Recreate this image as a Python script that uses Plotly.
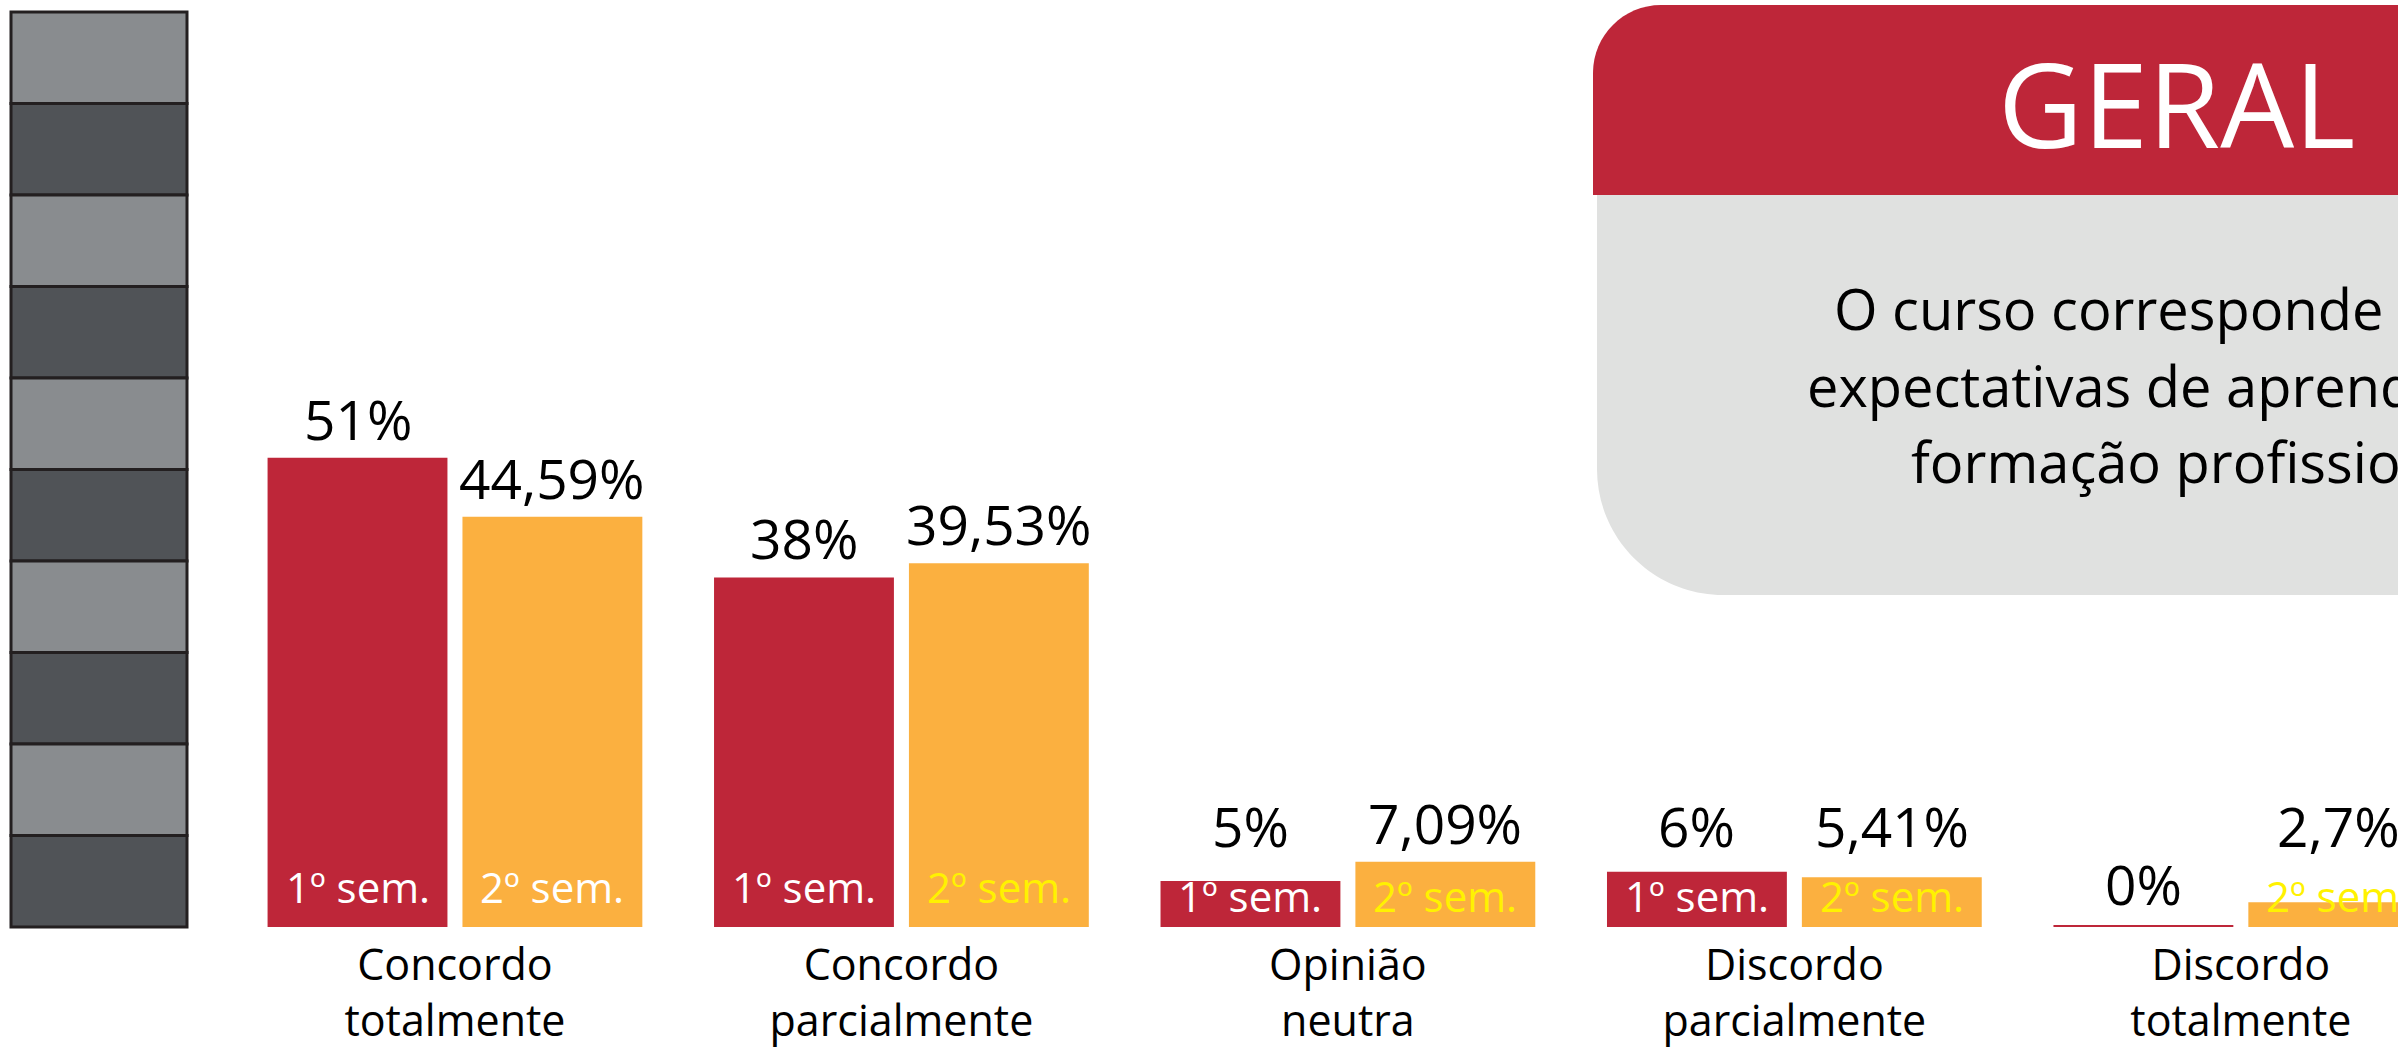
import plotly.graph_objects as go

# ---------------- data ----------------
categories = ["Concordo<br>totalmente", "Concordo<br>parcialmente", "Opinião<br>neutra",
              "Discordo<br>parcialmente", "Discordo<br>totalmente"]
series_names = ["1º sem.", "2º sem."]
sem1 = [51, 38, 5, 6, 0]
sem2 = [44.59, 39.53, 7.09, 5.41, 2.7]
title_text = "GERAL"
question_lines = ["O curso corresponde às suas", "expectativas de aprendizagem e", "formação profissional?"]

# ---------------- style ----------------
RED = "#BE2639"
ORANGE = "#FBB040"
YELLOW = "#FFF200"
BOX_GRAY = "#E0E1E0"
SEG_LIGHT = "#898C8F"
SEG_DARK = "#505357"
SEG_LINE = "#231F20"
FONT = "Open Sans"
sem2_label_colors = ["#FFFFFF", YELLOW, YELLOW, YELLOW, YELLOW]

W, H = 2398, 1054
PLOT_H = 927            # plot area height in px (baseline position)
PX_PER_PCT = 9.2
Y_MAX = PLOT_H / PX_PER_PCT
X_RANGE = [-1.019, 4.352]
PX_PER_CAT = W / (X_RANGE[1] - X_RANGE[0])
BARGAP = 0.127
BARGROUPGAP = 0.077
SLOT = (1 - BARGAP) / 2
OFFSET_PX = SLOT * PX_PER_CAT / 2
BAR_W = SLOT * (1 - BARGROUPGAP)

VAL_FS = 55
IN_FS = 42


def fmt(v):
    s = f"{v:.2f}".rstrip("0").rstrip(".")
    return s.replace(".", ",") + "%"


def X(px):
    return px / W


def Y(py):
    return (PLOT_H - py) / PLOT_H


fig = go.Figure()
for vals, color, name in [(sem1, RED, series_names[0]), (sem2, ORANGE, series_names[1])]:
    fig.add_trace(go.Bar(x=categories, y=vals, name=name, marker=dict(color=color, line=dict(width=0)),
                         showlegend=False, hoverinfo="skip"))

annotations = []
shapes = []
for s, (vals, sign) in enumerate([(sem1, -1), (sem2, 1)]):
    for i, (cat, v) in enumerate(zip(categories, vals)):
        bar_px = v * PX_PER_PCT
        if v > 0:
            col = "#FFFFFF" if s == 0 else sem2_label_colors[i]
            in_shift = 10 if bar_px > 100 else 1
            annotations.append(dict(x=cat, y=0, xref="x", yref="y", text=series_names[s],
                                    showarrow=False, yanchor="bottom", xanchor="center",
                                    xshift=sign * OFFSET_PX, yshift=in_shift,
                                    font=dict(family=FONT, size=IN_FS, color=col)))
            in_top = in_shift + 1.36 * IN_FS + 4   # top of the inside label's box
            vshift = max(0, in_top - bar_px)
        else:
            vshift = 4
            # zero-value bar drawn as a thin line at the baseline
            cx = i + sign * SLOT / 2
            shapes.append(dict(type="line", xref="x", yref="y", x0=cx - BAR_W / 2, x1=cx + BAR_W / 2,
                               y0=0, y1=0, line=dict(color=RED if s == 0 else ORANGE, width=4),
                               layer="above"))
        annotations.append(dict(x=cat, y=v, xref="x", yref="y", text=fmt(v), showarrow=False,
                                yanchor="bottom", xanchor="center", xshift=sign * OFFSET_PX,
                                yshift=vshift, font=dict(family=FONT, size=VAL_FS, color="#000000")))

# ---- decorative left stack ----
n_seg = 10
top, bottom = 12, 927
seg_h = (bottom - top) / n_seg
for k in range(n_seg):
    y0 = top + k * seg_h
    shapes.append(dict(type="rect", xref="paper", yref="paper", x0=X(11), x1=X(187),
                       y0=Y(y0 + seg_h), y1=Y(y0), fillcolor=SEG_LIGHT if k % 2 == 0 else SEG_DARK,
                       line=dict(color=SEG_LINE, width=3), layer="above"))

# ---- header box ----
K = 0.5523
r = 68
x0, yt, yb = 1593, 5, 195
p = (f"M {X(x0)},{Y(yb)} L {X(x0)},{Y(yt + r)} "
     f"C {X(x0)},{Y(yt + r - K * r)} {X(x0 + r - K * r)},{Y(yt)} {X(x0 + r)},{Y(yt)} "
     f"L {X(W + 20)},{Y(yt)} L {X(W + 20)},{Y(yb)} Z")
shapes.append(dict(type="path", xref="paper", yref="paper", path=p, fillcolor=RED,
                   line=dict(width=0), layer="above"))
r2 = 126
gx, gt, gb = 1597, 195, 595
p2 = (f"M {X(gx)},{Y(gt)} L {X(W + 20)},{Y(gt)} L {X(W + 20)},{Y(gb)} L {X(gx + r2)},{Y(gb)} "
      f"C {X(gx + r2 - K * r2)},{Y(gb)} {X(gx)},{Y(gb - r2 + K * r2)} {X(gx)},{Y(gb - r2)} Z")
shapes.append(dict(type="path", xref="paper", yref="paper", path=p2, fillcolor=BOX_GRAY,
                   line=dict(width=0), layer="above"))

# title
TFS = 117
annotations.append(dict(x=X(2176), y=Y(148 - 0.388 * TFS), xref="paper", yref="paper", text=title_text,
                        showarrow=False, xanchor="center", yanchor="middle",
                        font=dict(family=FONT, size=TFS, color="#FFFFFF")))
QFS = 56
for line, lx, base in zip(question_lines, [1833, 1806, 1910], [330, 407, 483]):
    annotations.append(dict(x=X(lx), y=Y(base - 0.388 * QFS), xref="paper", yref="paper", text=line,
                            showarrow=False, xanchor="left", yanchor="middle", borderpad=0,
                            font=dict(family=FONT, size=QFS, color="#000000")))

fig.update_layout(
    width=W, height=H, margin=dict(l=0, r=0, t=0, b=H - PLOT_H, pad=0),
    barmode="group", bargap=BARGAP, bargroupgap=BARGROUPGAP,
    plot_bgcolor="#FFFFFF", paper_bgcolor="#FFFFFF",
    xaxis=dict(range=X_RANGE, showgrid=False, zeroline=False, showline=False, ticks="",
               tickfont=dict(family=FONT, size=43, color="#000000"), ticklabelstandoff=9,
               automargin=False, fixedrange=True),
    yaxis=dict(range=[0, Y_MAX], visible=False, showgrid=False, zeroline=False, fixedrange=True),
    annotations=annotations, shapes=shapes, showlegend=False,
    font=dict(family=FONT),
)
fig.write_html("out.html", config={"displayModeBar": False},
               post_script="document.body.style.margin='0';document.body.style.overflow='hidden';")
